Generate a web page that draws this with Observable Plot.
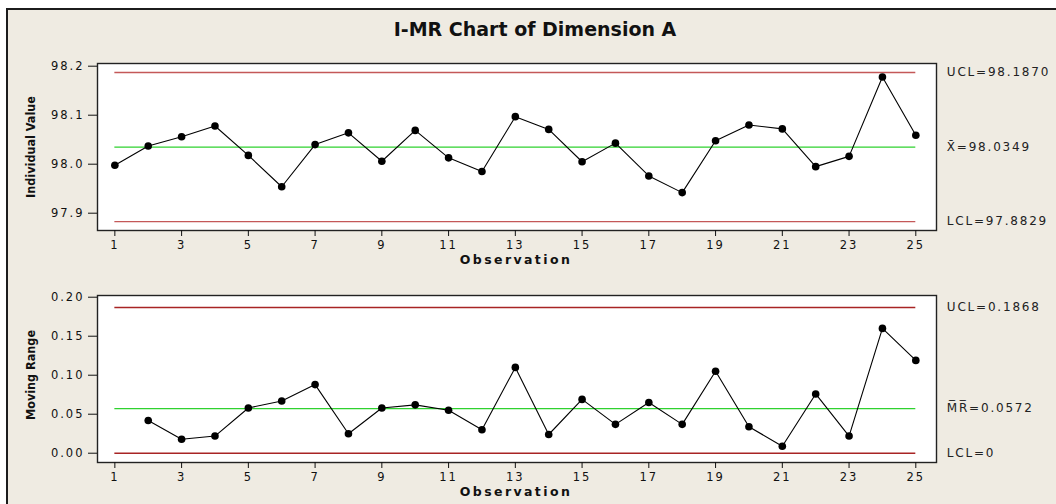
<!DOCTYPE html>
<html><head><meta charset="utf-8">
<script src="https://cdn.jsdelivr.net/npm/d3@7"></script>
<script src="https://cdn.jsdelivr.net/npm/@observablehq/plot@0.6"></script>
<style>
html,body{margin:0;padding:0;background:#fff;width:1056px;height:504px;overflow:hidden;}
#page{position:absolute;left:6px;top:8px;width:1060px;height:510px;background:#efebe2;border-left:2px solid #1c1c1c;border-top:2px solid #1c1c1c;}
#title{position:absolute;left:0;width:1070px;top:18px;text-align:center;font:bold 19px "DejaVu Sans";color:#111;}
.panel{position:absolute;left:0;}
</style></head><body>
<div id="page"></div>
<div id="title">I-MR Chart of Dimension A</div>
<div id="top" class="panel" style="top:50px"></div>
<div id="bottom" class="panel" style="top:280px"></div>
<script>
// ---- data ----
const observations = [1,2,3,4,5,6,7,8,9,10,11,12,13,14,15,16,17,18,19,20,21,22,23,24,25];
const individualValues = [97.998,98.037,98.056,98.078,98.018,97.954,98.040,98.064,98.006,98.069,98.013,97.985,98.097,98.071,98.005,98.043,97.976,97.942,98.048,98.080,98.072,97.995,98.016,98.178,98.059];
const mrObservations = [2,3,4,5,6,7,8,9,10,11,12,13,14,15,16,17,18,19,20,21,22,23,24,25];
const movingRanges = [0.042,0.018,0.022,0.058,0.067,0.088,0.025,0.058,0.062,0.055,0.030,0.110,0.024,0.069,0.037,0.065,0.037,0.105,0.034,0.009,0.076,0.022,0.160,0.119];
const xTicks = [1,3,5,7,9,11,13,15,17,19,21,23,25];
const iTicks = [97.9,98.0,98.1,98.2];
const mrTicks = [0,0.05,0.10,0.15,0.20];
const iLimitValues = [98.1870, 98.0349, 97.8829];
const iLimitLabels = ["UCL=98.1870", "X\u0304=98.0349", "LCL=97.8829"];
const mrLimitValues = [0.1868, 0.0572, 0];
const mrLimitLabels = ["UCL=0.1868", "M\u0305R\u0305=0.0572", "LCL=0"];

const GREEN = "#2fd22f";

function panel({xs, values, yDomain, yTicks, yFmt, limVals, limLabels, yTitle, height, mt, mb, titleDy, red}) {
  const rows = xs.map((o, i) => ({o, v: values[i]}));
  const ucl = [limVals[0], limVals[2]];
  const lim = limVals.map((v, i) => ({v, t: limLabels[i]}));
  const x0 = observations[0], x1 = observations[observations.length - 1];
  const svg = Plot.plot({
    width: 1056, height, marginLeft: 97, marginRight: 120, marginTop: mt, marginBottom: mb,
    style: {background: "transparent", fontFamily: "DejaVu Sans", fontSize: "11.5px", color: "#111", overflow: "visible"},
    x: {domain: [0.48, 25.62], label: null},
    y: {domain: yDomain, label: null},
    marks: [
      Plot.frame({fill: "white"}),
      Plot.ruleY(ucl, {x1: x0, x2: x1, stroke: red, strokeWidth: 1.4}),
      Plot.ruleY([limVals[1]], {x1: x0, x2: x1, stroke: GREEN, strokeWidth: 1.4}),
      Plot.line(rows, {x: "o", y: "v", stroke: "#000", strokeWidth: 1.1}),
      Plot.dot(rows, {x: "o", y: "v", r: 3.8, fill: "#000"}),
      Plot.frame({stroke: "#222", strokeWidth: 1.4}),
      Plot.axisX(xTicks, {tickSize: 6, tickPadding: 4, tickFormat: d => String(d)}),
      Plot.axisY(yTicks, {tickSize: 9, tickPadding: 4, tickFormat: d3.format(yFmt)}),
      Plot.text(lim, {x: x1, y: "v", text: "t", dx: 31, textAnchor: "start", fontSize: 12, className: "limlab", fill: "#222"}),
      Plot.text([0], {frameAnchor: "bottom", text: () => "Observation", dy: 29, dx: -1, lineAnchor: "middle", fontWeight: "bold", fontSize: 12.5, className: "obslab"}),
      Plot.text([0], {frameAnchor: "left", text: () => yTitle, rotate: -90, dx: -67, dy: titleDy, textAnchor: "middle", lineAnchor: "middle", fontWeight: "bold", fontSize: 12.5, fontFamily: "DejaVu Sans Condensed"})
    ]
  });
  const s = d3.select(svg);
  s.selectAll('[aria-label="x-axis tick label"] text, [aria-label="y-axis tick label"] text').style("letter-spacing", "2px");
  s.selectAll('.limlab text, text.limlab').style("letter-spacing", "1.8px");
  s.selectAll('.obslab text, text.obslab').style("letter-spacing", "2.4px");
  return svg;
}

document.getElementById("top").append(panel({
  xs: observations, values: individualValues, yDomain: [97.8647, 98.2055], yTicks: iTicks, yFmt: ".1f",
  limVals: iLimitValues, limLabels: iLimitLabels, yTitle: "Individual Value", height: 220, mt: 13, mb: 40, titleDy: 0, red: "#c45858"
}));
document.getElementById("bottom").append(panel({
  xs: mrObservations, values: movingRanges, yDomain: [-0.0119, 0.2022], yTicks: mrTicks, yFmt: ".2f",
  limVals: mrLimitValues, limLabels: mrLimitLabels, yTitle: "Moving Range", height: 224, mt: 15, mb: 42, titleDy: -4, red: "#a82424"
}));
</script>
</body></html>
